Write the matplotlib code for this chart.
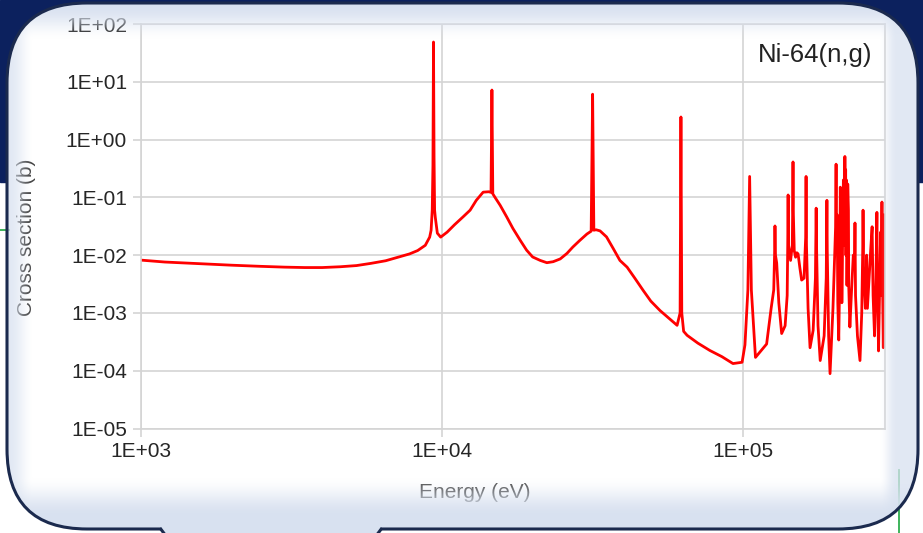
import numpy as np
import matplotlib
matplotlib.use('Agg')
import matplotlib.pyplot as plt
from matplotlib.patches import FancyBboxPatch, Rectangle, Polygon
from matplotlib.ticker import FixedLocator, FuncFormatter, NullLocator

plt.rcParams['font.family'] = ['Liberation Sans', 'DejaVu Sans']

W, H = 923, 533
NAVY = '#0c215e'
PALE = '#d8e1f0'
EDGE = '#1b2a4e'
GRID = '#d4d4d4'

# Ni-64 (n,g) capture cross section, eV / barn
energy_ev = [
    # smooth region below the first resonance
    1000, 1200, 1500, 2000, 2500, 3000, 3500, 4000, 4600, 5200, 5800, 6500,
    7250, 7800, 8300, 8800, 9100,
    # 9.4 keV resonance
    9200, 9280, 9330, 9370, 9410, 9450, 9500, 9650, 9900,
    # broad 14 keV bump with narrow line
    10400, 11000, 11750, 12400, 13000, 13700, 14300, 14550, 14650, 14750,
    15000, 15600, 16400, 17200, 18200, 19100, 20000, 21200, 22300, 23400,
    # 32 keV bump
    24700, 26000, 27200, 28700, 30300, 31300, 31650, 31950, 32500, 33500,
    35200, 37000, 39000, 41200, 43700, 46600, 49400, 53000, 56400,
    # 62 keV and 105 keV lines
    60400, 61800, 62200, 62600, 63500, 65200, 70800, 77600, 85100, 92600,
    99300, 101500, 103800, 105200, 106600, 110000,
    # dense cluster above 110 keV
    119800, 124000, 126500, 127300, 127700, 128200, 129400, 131500, 134400,
    138000, 140200, 140800, 141200, 141600, 143900, 145800, 146300, 146600,
    146900, 148000, 149500, 151000, 152400, 154500, 156600, 159500, 161500,
    162000, 162500, 164500, 167000, 171000, 174000, 174600, 175000, 175500,
    177500, 180500, 186000, 189000, 189600, 190000, 190500, 192500, 194600,
    199000, 203000, 203800, 204500, 205500, 206500, 208000, 209500, 210500,
    211500, 212200, 213000, 214500, 215500, 216500, 217400, 218000, 218600,
    219300, 219800, 220500, 221000, 221500, 222800, 224000, 224500, 226500,
    229000, 232500, 234800, 235500, 236500, 240000, 244700, 248000, 250000,
    250500, 251500, 255000, 257500, 259000, 263000, 265500, 268500, 270500,
    273500, 276500, 278500, 279500, 282000, 284500, 286500, 287500, 289500,
    290500, 292500, 294000, 295000, 296000, 297500, 299000,
]
xs_barn = [
    8.2e-3, 7.6e-3, 7.2e-3, 6.7e-3, 6.4e-3, 6.2e-3, 6.1e-3, 6.1e-3, 6.3e-3,
    6.6e-3, 7.2e-3, 8.0e-3, 9.4e-3, 1.05e-2, 1.2e-2, 1.48e-2, 2.05e-2,
    2.7e-2, 6.0e-2, 3.6e-1, 48.8, 5.0e-1, 6.0e-2, 4.5e-2, 2.4e-2, 2.05e-2,
    2.5e-2, 3.35e-2, 4.6e-2, 6.0e-2, 8.9e-2, 1.23e-1, 1.25e-1, 1.22e-1, 7.2,
    1.15e-1, 1.0e-1, 7.3e-2, 4.6e-2, 2.9e-2, 1.8e-2, 1.22e-2, 9.3e-3, 8.1e-3,
    7.4e-3, 7.7e-3,
    8.6e-3, 1.07e-2, 1.38e-2, 1.8e-2, 2.32e-2, 2.6e-2, 6.1, 2.7e-2, 2.75e-2,
    2.63e-2, 2.07e-2, 1.32e-2, 8.1e-3, 6.2e-3, 4.0e-3, 2.45e-3, 1.6e-3,
    1.1e-3, 8.3e-4,
    6.1e-4, 1.0e-3, 2.46, 1.0e-3, 4.8e-4, 4.1e-4, 3.0e-4, 2.24e-4, 1.75e-4,
    1.33e-4, 1.4e-4, 2.8e-4, 2.5e-3, 2.3e-1, 2.5e-3, 1.7e-4,
    2.9e-4, 1.2e-3, 2.5e-3, 1.0e-2, 3.2e-2, 1.0e-2, 7.3e-3, 1.5e-3, 4.4e-4,
    6.0e-4, 2.0e-3, 1.5e-2, 1.1e-1, 1.5e-2, 8.1e-3, 1.5e-2, 8.0e-2, 4.1e-1,
    6.0e-2, 1.2e-2, 9.2e-3, 1.1e-2, 1.05e-2, 6.0e-3, 3.7e-3, 4.0e-3, 2.0e-2,
    2.3e-1, 1.5e-2, 1.2e-3, 2.5e-4, 5.0e-4, 4.0e-3, 2.0e-2, 6.5e-2, 1.5e-2,
    6.0e-4, 1.5e-4, 4.0e-4, 4.0e-3, 3.0e-2, 8.9e-2, 1.2e-2, 4.0e-4, 8.9e-5,
    1.2e-3, 3.0e-2, 3.75e-1, 2.0e-2, 5.0e-2, 1.5e-3, 3.4e-4, 4.0e-3, 1.5e-1,
    3.0e-3, 1.2e-1, 1.5e-3, 3.0e-2, 2.0e-1, 1.5e-2, 6.0e-2, 5.1e-1, 8.0e-2,
    3.0e-1, 1.0e-2, 2.0e-1, 8.0e-2, 3.0e-3, 1.7e-1, 6.0e-2, 3.0e-3, 5.7e-4,
    2.0e-3, 1.0e-2, 8.0e-3, 3.6e-2, 2.0e-3, 4.0e-4, 1.5e-4, 1.0e-3, 1.5e-2,
    6.0e-2, 6.0e-3, 1.2e-3, 1.0e-2, 1.2e-3, 5.0e-3, 1.2e-2, 3.1e-2, 2.0e-3,
    4.0e-4, 4.0e-3, 5.5e-2, 4.0e-3, 2.2e-4, 3.0e-3, 2.5e-2, 2.0e-3, 8.3e-2,
    5.0e-3, 2.5e-4, 1.5e-2, 5.0e-2, 3.0e-3, 2.5e-2, 3.0e-4,
]

x_ticks = [1e3, 1e4, 1e5]
y_ticks = [1e-5, 1e-4, 1e-3, 1e-2, 1e-1, 1e0, 1e1, 1e2]
x_range = (1e3, 2.963e5)
y_range = (1e-5, 1e2)


def bubble_shape(**kw):
    return FancyBboxPatch((7, 3), 911, 526,
                          boxstyle='round,pad=0,rounding_size=80', **kw)


def smooth(t):
    t = np.clip(t, 0, 1)
    return t * t * (3 - 2 * t)


fig = plt.figure(figsize=(W / 100, H / 100), dpi=100)

# --- backdrop: slide behind the callout ---
bg = fig.add_axes([0, 0, 1, 1])
bg.set_xlim(0, W)
bg.set_ylim(H, 0)
bg.axis('off')
bg.add_patch(Rectangle((0, 0), W, H, color='white'))
bg.add_patch(Rectangle((0, 0), W, 182, color=NAVY))
bg.plot([0, 9], [230, 230], color='#2fae4e', lw=1.3)
bg.plot([899, 899], [470, 533], color='#2fae4e', lw=1.3)

yy, xx = np.mgrid[0:H, 0:W]
glow = np.zeros((H, W, 4))
glow[..., :3] = 1.0
glow[..., 3] = 0.7 * np.exp(-((xx - 24) ** 2 + (yy - 48) ** 2) / 30.0 ** 2)
bg.imshow(glow, extent=(0, W, H, 0), aspect='auto', interpolation='bilinear')
bg.set_xlim(0, W)
bg.set_ylim(H, 0)
bg.add_patch(bubble_shape(fc='white', ec='none'))

# --- chart ---
ax = fig.add_axes([141 / W, 1 - 428.5 / H, 744 / W, 404.5 / H])
ax.set_zorder(1)
ax.patch.set_visible(False)
ax.loglog(energy_ev, xs_barn, color='#ff0000', lw=2.0)
ax.set_xlim(*x_range)
ax.set_ylim(*y_range)
ax.xaxis.set_major_locator(FixedLocator(x_ticks))
ax.yaxis.set_major_locator(FixedLocator(y_ticks))
ax.xaxis.set_minor_locator(NullLocator())
ax.yaxis.set_minor_locator(NullLocator())
sci = FuncFormatter(lambda v, p: f'{v:.0E}')
ax.xaxis.set_major_formatter(sci)
ax.yaxis.set_major_formatter(sci)
ax.grid(True, color=GRID, lw=1.2)
ax.set_axisbelow(True)
for s in ax.spines.values():
    s.set_color(GRID)
    s.set_linewidth(1.2)
ax.tick_params(direction='out', length=6, width=1.2, color=GRID,
               labelsize=15, labelcolor='#262626', pad=4)

ax.text(0.983, 0.923, 'Ni-64(n,g)', transform=ax.transAxes, ha='right',
        va='center', fontsize=18.5, color='#222222')
ax.text(475 / W, 1 - 492 / H, 'Energy (eV)', transform=fig.transFigure,
        ha='center', va='center', fontsize=15, color='#555555')
ax.text(27 / W, 1 - 237 / H, 'Cross section (b)', transform=fig.transFigure,
        ha='center', va='center', rotation=90, fontsize=15, color='#444444')

# --- callout frame: pale inner rim, outline and tail ---
fg = fig.add_axes([0, 0, 1, 1])
fg.set_zorder(2)
fg.patch.set_visible(False)
fg.axis('off')
clip = bubble_shape(fc='none', ec='none')
fg.add_patch(clip)

side = np.maximum(1 - smooth((xx - 9) / 24.0), smooth((xx - 879) / 17.0))
vert = np.maximum(1 - smooth((yy - 4) / 36.0), smooth((yy - 476) / 40.0))
rim = np.zeros((H, W, 4))
rim[..., :3] = matplotlib.colors.to_rgb(PALE)
rim[..., 3] = 1 - (1 - 0.75 * side) * (1 - vert)
im = fg.imshow(rim, extent=(0, W, H, 0), aspect='auto', interpolation='bilinear')
im.set_clip_path(clip)
fg.add_patch(bubble_shape(fc='none', ec=EDGE, lw=2.2))
fg.add_patch(Polygon([(160, 525.5), (167, 540), (375, 540), (382, 525.5)],
                     closed=True, fc=PALE, ec='none'))
fg.plot([160, 166], [528, 536], color=EDGE, lw=2.2, solid_capstyle='butt')
fg.plot([382, 376], [528, 536], color=EDGE, lw=2.2, solid_capstyle='butt')
fg.set_xlim(0, W)
fg.set_ylim(H, 0)

fig.savefig('out.png', dpi=100)
